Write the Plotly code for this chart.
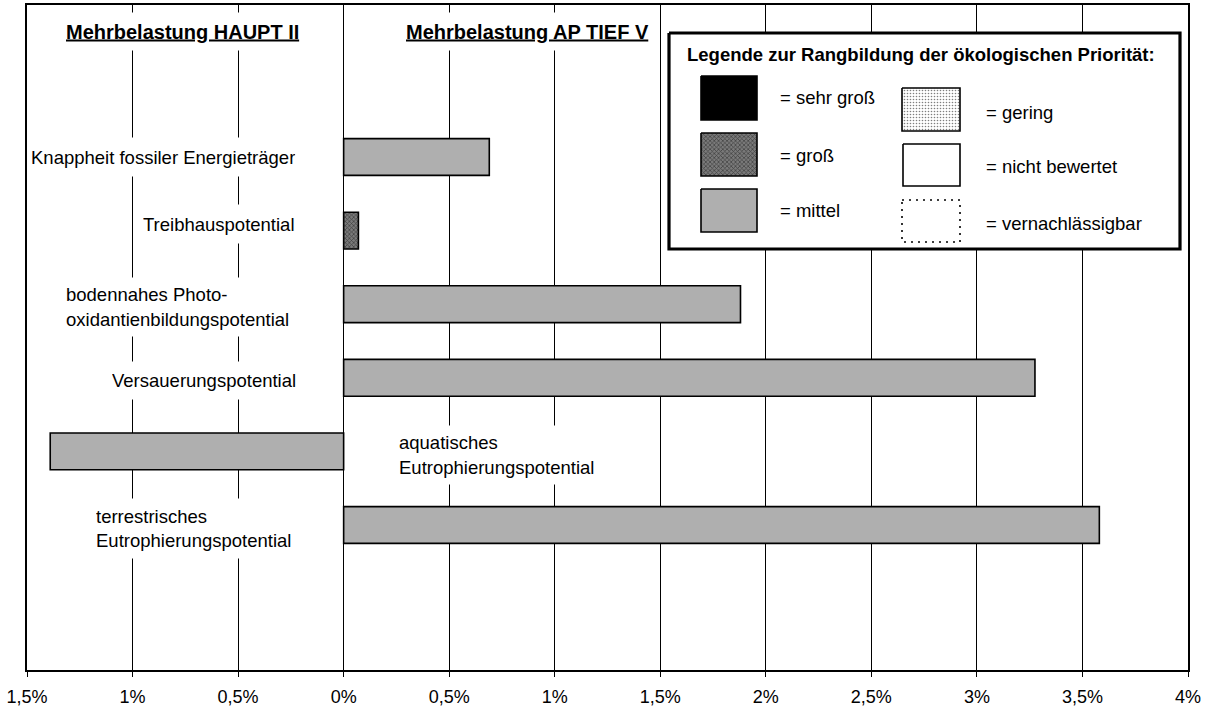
import plotly.graph_objects as go

# ---- data -------------------------------------------------------------
categories = [
    "Knappheit fossiler Energieträger",
    "Treibhauspotential",
    "bodennahes Photooxidantienbildungspotential",
    "Versauerungspotential",
    "aquatisches Eutrophierungspotential",
    "terrestrisches Eutrophierungspotential",
]
# additional burden in percent (negative = HAUPT II, positive = AP TIEF V)
values = [0.69, 0.07, 1.88, 3.275, -1.39, 3.58]
priority = ["mittel", "groß", "mittel", "mittel", "mittel", "mittel"]

label_text = [
    "Knappheit fossiler Energieträger",
    "Treibhauspotential",
    "bodennahes Photo-<br>oxidantienbildungspotential",
    "Versauerungspotential",
    "aquatisches<br>Eutrophierungspotential",
    "terrestrisches<br>Eutrophierungspotential",
]

tick_vals = [-1.5, -1.0, -0.5, 0.0, 0.5, 1.0, 1.5, 2.0, 2.5, 3.0, 3.5, 4.0]
tick_text = ["1,5%", "1%", "0,5%", "0%", "0,5%", "1%", "1,5%", "2%",
             "2,5%", "3%", "3,5%", "4%"]

legend_levels = ["sehr groß", "groß", "mittel", "gering",
                 "nicht bewertet", "vernachlässigbar"]

# ---- styling ----------------------------------------------------------
FONT = "Liberation Sans, Arial, Helvetica, sans-serif"
FS = 18.5

PATTERNS = {
    "sehr groß": dict(shape="", bgcolor="black", fgcolor="black"),
    "groß": dict(shape="x", fgcolor="black", bgcolor="#7a7a7a", size=3, solidity=0.4),
    "mittel": dict(shape=".", fgcolor="black", bgcolor="#e0e0e0", size=2, solidity=0.5),
    "gering": dict(shape=".", fgcolor="black", bgcolor="white", size=3, solidity=0.22),
    "nicht bewertet": dict(shape="", bgcolor="white", fgcolor="white"),
    "vernachlässigbar": dict(shape="", bgcolor="white", fgcolor="white"),
}

fig = go.Figure()

# bars, one trace per priority class
for level in legend_levels:
    idx = [i for i, p in enumerate(priority) if p == level]
    if not idx:
        continue
    fig.add_trace(go.Bar(
        x=[values[i] for i in idx],
        y=[categories[i] for i in idx],
        orientation="h",
        width=0.5,
        marker=dict(color="white", line=dict(color="black", width=1.6),
                    pattern=PATTERNS[level]),
        hoverinfo="skip",
        showlegend=False,
    ))

# ---- legend panel (drawn in pixel-like overlay axes) ------------------
def rect(x0, x1, y0, y1):
    return [x0, x1, x1, x0, x0], [y0, y0, y1, y1, y0]

bx, by = rect(669, 1180, 33, 249)
fig.add_trace(go.Scatter(x=bx, y=by, xaxis="x2", yaxis="y2", mode="lines",
                         fill="toself", fillcolor="white",
                         line=dict(color="black", width=3.2),
                         hoverinfo="skip", showlegend=False))

swatches = {
    "sehr groß": (701, 757, 76, 120),
    "groß": (701, 757, 133, 176),
    "mittel": (701, 757, 189, 232),
    "gering": (902, 960, 88, 131),
    "nicht bewertet": (903, 960, 144, 186),
    "vernachlässigbar": (902, 960, 200, 242),
}
legend_label_pos = {
    "sehr groß": (778, 97),
    "groß": (778, 155),
    "mittel": (778, 210),
    "gering": (984, 112),
    "nicht bewertet": (984, 166),
    "vernachlässigbar": (984, 223),
}

for level in legend_levels:
    x0, x1, y0, y1 = swatches[level]
    sx, sy = rect(x0, x1, y0, y1)
    pat = PATTERNS[level]
    if level == "vernachlässigbar":
        fig.add_trace(go.Scatter(x=sx, y=sy, xaxis="x2", yaxis="y2", mode="lines",
                                 line=dict(color="black", width=1.6, dash="2px,5px"),
                                 hoverinfo="skip", showlegend=False))
    elif pat["shape"]:
        fig.add_trace(go.Scatter(x=sx, y=sy, xaxis="x2", yaxis="y2", mode="lines",
                                 fill="toself", fillcolor="white",
                                 fillpattern=dict(shape=pat["shape"], fgcolor=pat["fgcolor"],
                                                  bgcolor=pat["bgcolor"], size=pat["size"],
                                                  solidity=pat["solidity"]),
                                 line=dict(color="black", width=1.6),
                                 hoverinfo="skip", showlegend=False))
    else:
        fig.add_trace(go.Scatter(x=sx, y=sy, xaxis="x2", yaxis="y2", mode="lines",
                                 fill="toself", fillcolor=pat["bgcolor"],
                                 line=dict(color="black", width=1.6),
                                 hoverinfo="skip", showlegend=False))
    lx, ly = legend_label_pos[level]
    fig.add_annotation(x=lx, y=ly, xref="x2", yref="y2", text="= " + level,
                       showarrow=False, xanchor="left", yanchor="middle",
                       font=dict(family=FONT, size=FS, color="black"))

fig.add_annotation(x=921, y=54, xref="x2", yref="y2",
                   text="<b>Legende zur Rangbildung der ökologischen Priorität:</b>",
                   showarrow=False, xanchor="center", yanchor="middle",
                   font=dict(family=FONT, size=FS, color="black"))

# ---- category labels (white boxes interrupt the grid lines) ----------
label_place = [
    # x (data units), anchor, align, vertical shift in px, box height
    (-0.225, "right", "right", 0, 38),
    (-0.225, "right", "right", 7, 38),
    (-1.32, "left", "left", -3, 58),
    (-0.22, "right", "right", -2.5, 37),
    (0.258, "left", "left", -3.5, 58),
    (-1.177, "left", "left", -3.5, 59),
]
for cat, txt, (lx, anc, al, ys, h) in zip(categories, label_text, label_place):
    fig.add_annotation(x=lx, y=cat, xref="x", yref="y", text=txt,
                       showarrow=False, xanchor=anc, yanchor="middle", align=al,
                       yshift=ys, height=h, borderpad=0, bgcolor="white",
                       font=dict(family=FONT, size=FS, color="black"))

# ---- section headers ---------------------------------------------------
for txt, cx in [("Mehrbelastung HAUPT II", 182), ("Mehrbelastung AP TIEF V", 527)]:
    fig.add_annotation(x=cx, y=31.5, xref="x2", yref="y2",
                       text="<b><u>" + txt + "</u></b>", showarrow=False,
                       xanchor="center", yanchor="middle", height=37, borderpad=0,
                       bgcolor="white",
                       font=dict(family=FONT, size=20, color="black"))

# ---- axes & layout ----------------------------------------------------
fig.update_layout(
    width=1213, height=709,
    margin=dict(l=27, r=25, t=5, b=39, autoexpand=False),
    paper_bgcolor="white", plot_bgcolor="white",
    barmode="overlay",
    showlegend=False,
    font=dict(family=FONT, size=18, color="black"),
    xaxis=dict(
        range=[-1.5, 4.0], tickmode="array", tickvals=tick_vals, ticktext=tick_text,
        showgrid=True, gridcolor="black", gridwidth=1.3, zeroline=False,
        showline=True, linecolor="black", linewidth=1.6, mirror=True,
        ticks="outside", ticklen=5, tickwidth=1.3, tickcolor="black",
        tickfont=dict(family=FONT, size=18, color="black"),
        ticklabelstandoff=5, automargin=False,
    ),
    yaxis=dict(
        type="category", categoryorder="array", categoryarray=categories,
        range=[6.97, -2.065], showticklabels=False, ticks="",
        showgrid=False, zeroline=False, automargin=False,
        showline=True, linecolor="black", linewidth=1.6, mirror=True,
    ),
    xaxis2=dict(overlaying="x", range=[27, 1188], visible=False, fixedrange=True),
    yaxis2=dict(overlaying="y", range=[670, 5], visible=False, fixedrange=True),
)

fig.write_html("out.html")
